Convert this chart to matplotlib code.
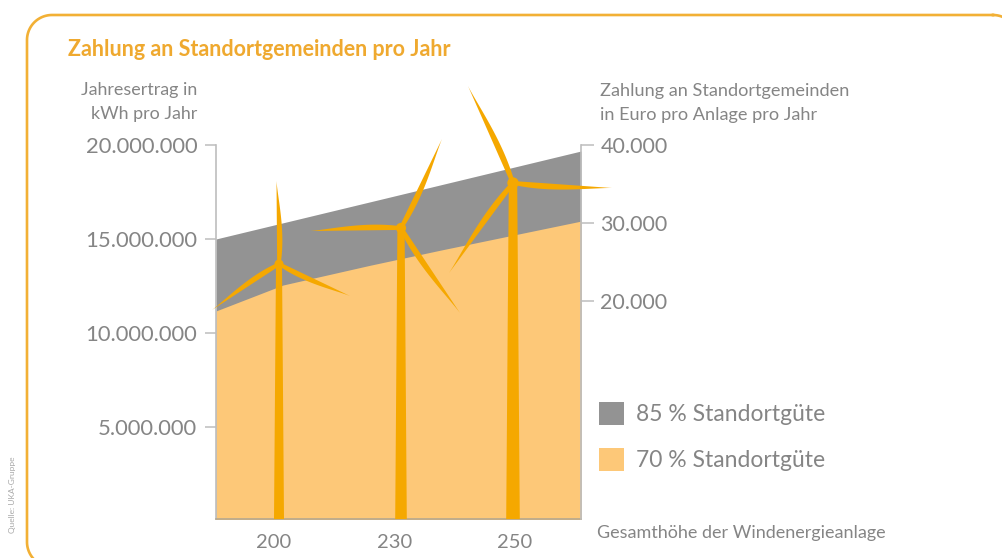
import matplotlib
matplotlib.use("Agg")
import matplotlib.pyplot as plt
from matplotlib.patches import Polygon
import numpy as np

W, H = 1003, 558
plt.rcParams['font.family'] = ['Lato', 'DejaVu Sans']

# --- data (x in reference-chart position units along the horizontal axis)
x_top = [216, 581]
good85 = [15.0e6, 19.68e6]
x_low = [216, 283, 370, 440, 581]
good70 = [11.17e6, 12.55e6, 13.6e6, 14.4e6, 15.95e6]
x_ticks = [274, 395, 515]
x_labels = ['200', '230', '250']
left_ticks = [5e6, 10e6, 15e6, 20e6]
left_labels = ['5.000.000', '10.000.000', '15.000.000', '20.000.000']
right_ticks = [20000, 30000, 40000]
right_labels = ['20.000', '30.000', '40.000']

# turbine geometry: hub, blade tips, tower half-widths (top, bottom)
turbines = [
    ((279, 264), [(276.5, 181), (212, 310), (350, 296)], 3.0, 5.0),
    ((401, 228), [(310, 231), (442, 139), (460, 313)], 3.6, 5.8),
    ((513, 183), [(468, 86), (612, 188), (449, 273)], 4.2, 6.8),
]

GREY = '#939393'
LIGHT = '#FDC878'
ORANGE = '#F5A800'
TEXT = '#858585'
AXIS = '#BDBDBD'
FRAME = '#F2B035'
TITLE = '#EFA92F'

fig = plt.figure(figsize=(W / 100, H / 100), dpi=100, facecolor='white')


def ax_rect(x0, x1, ytop, ybot):
    return [x0 / W, 1 - ybot / H, (x1 - x0) / W, (ybot - ytop) / H]


ax = fig.add_axes(ax_rect(216, 581, 145, 519))
ax.set_xlim(216, 581)
ax.set_ylim(0.1e6, 20e6)
ax.patch.set_alpha(0)
x_all = np.array(x_low)
top_interp = np.interp(x_all, x_top, good85)
ax.fill_between(x_all, 0, top_interp, color=GREY, lw=0, label='85 % Standortgüte')
ax.fill_between(x_all, 0, good70, color=LIGHT, lw=0, label='70 % Standortgüte')

for s in ['top', 'right']:
    ax.spines[s].set_visible(False)
ax.spines['left'].set_color(AXIS)
ax.spines['left'].set_linewidth(1.2)
ax.spines['bottom'].set_color('#B5A88F')
ax.spines['bottom'].set_linewidth(1.2)
ax.set_yticks(left_ticks, left_labels)
ax.tick_params(axis='y', length=8, width=1.1, color=AXIS, labelsize=15.8,
               labelcolor=TEXT, pad=5.5)
ax.set_xticks(x_ticks, x_labels)
ax.tick_params(axis='x', length=0, labelsize=14.5, labelcolor=TEXT, pad=11)

axr = ax.twinx()
axr.set_ylim(-7820, 40000)
axr.patch.set_alpha(0)
for s in ['top', 'left', 'bottom']:
    axr.spines[s].set_visible(False)
axr.spines['right'].set_color(AXIS)
axr.spines['right'].set_linewidth(1.2)
axr.set_yticks(right_ticks, right_labels)
axr.tick_params(axis='y', length=9, width=1.1, color=AXIS, labelsize=15.5,
                labelcolor=TEXT, pad=5)

# overlay in pixel coordinates for frame, turbines and annotation text
ov = fig.add_axes([0, 0, 1, 1], zorder=5)
ov.set_xlim(0, W)
ov.set_ylim(H, 0)
ov.axis('off')


def rounded_frame(x0, y0, x1, y1, r):
    corners = [(x1 - r, y0 + r, -90), (x1 - r, y1 - r, 0),
               (x0 + r, y1 - r, 90), (x0 + r, y0 + r, 180)]
    xs, ys = [], []
    for cx, cy, a0 in corners:
        a = np.radians(np.linspace(a0, a0 + 90, 30))
        xs.extend(cx + r * np.cos(a))
        ys.extend(cy + r * np.sin(a))
    xs.append(xs[0])
    ys.append(ys[0])
    return xs, ys


fx, fy = rounded_frame(27, 15, 1018, 567, 25)
ov.plot(fx, fy, color=FRAME, lw=1.9)


def blade(hub, tip):
    hub = np.array(hub, float)
    tip = np.array(tip, float)
    d = tip - hub
    L = np.hypot(*d)
    n = np.array([-d[1], d[0]]) / L
    t = np.linspace(0, 1, 40)
    scale = (L / 100) ** 0.4
    wa = (1.8 * (1 - t) + 18 * t * (1 - t) ** 1.5) * scale
    wb = 2.0 * (1 - t) * scale
    side1 = hub + t[:, None] * d + wa[:, None] * n
    side2 = hub + t[:, None] * d - wb[:, None] * n
    return np.vstack([side1, side2[::-1]])


for hub, tips, wt, wb in turbines:
    ov.add_patch(Polygon([(hub[0] - wt, hub[1]), (hub[0] + wt, hub[1]),
                          (hub[0] + wb, 519), (hub[0] - wb, 519)],
                         fc=ORANGE, ec='none'))
    for tip in tips:
        ov.add_patch(Polygon(blade(hub, tip), fc=ORANGE, ec='none'))
    ov.add_patch(plt.Circle(hub, wt + 1.5, fc=ORANGE, ec='none'))

ov.text(68, 49, 'Zahlung an Standortgemeinden pro Jahr', color=TITLE, fontsize=15.5,
        fontweight='bold', va='center', ha='left')
ov.text(197, 90, 'Jahresertrag in', color=TEXT, fontsize=12.9, va='center', ha='right')
ov.text(197, 114, 'kWh pro Jahr', color=TEXT, fontsize=12.9, va='center', ha='right')
ov.text(600, 91, 'Zahlung an Standortgemeinden', color=TEXT, fontsize=13.1, va='center', ha='left')
ov.text(600, 115, 'in Euro pro Anlage pro Jahr', color=TEXT, fontsize=13.1, va='center', ha='left')
ov.text(597, 533, 'Gesamthöhe der Windenergieanlage', color=TEXT, fontsize=13.0, va='center', ha='left')
ov.text(13, 495, 'Quelle: UKA-Gruppe', color='#A8A8A8', fontsize=6.0, rotation=90,
        va='center', ha='center')

handles, labels = ax.get_legend_handles_labels()
leg = ov.legend(handles, labels, loc='upper left',
                bbox_to_anchor=(599 / W, 1 - 402 / H), bbox_transform=fig.transFigure,
                frameon=False, fontsize=16.5, labelcolor=TEXT, borderaxespad=0,
                borderpad=0, handlelength=1.1, handleheight=1.15, handletextpad=0.52,
                labelspacing=1.0)

fig.savefig('out.png', dpi=100, facecolor='white')
